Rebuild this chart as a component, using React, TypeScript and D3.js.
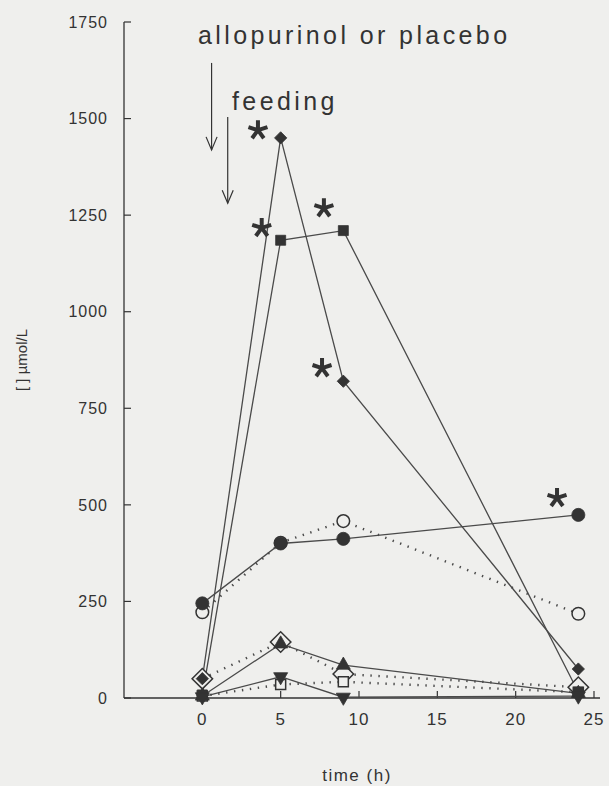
import React from "react";
import * as d3 from "d3";

// ---- data ----
const times = [0, 5, 9, 24];
const diamondFilled = [50, 1450, 820, 75];
const squareFilled = [8, 1185, 1210, 15];
const circleFilled = [245, 400, 412, 474];
const circleOpen = [222, 402, 458, 218];
const triangleUpFilled = [5, 140, 85, 12];
const diamondOpen = [50, 145, 62, 28];
const triangleDownFilled = [3, 55, 2, 5];
const squareOpen = [5, 35, 42, 15];

const xTicks = [0, 5, 10, 15, 20, 25];
const yTicks = [0, 250, 500, 750, 1000, 1250, 1500, 1750];

// asterisk annotations (data space)
const starT = [3.55, 3.79, 7.76, 7.64, 22.64];
const starV = [1470, 1217, 1268, 854, 518];

// arrow annotations (data space): time, top value, bottom value
const arrowT = [0.59, 1.62];
const arrowTop = [1644, 1504];
const arrowBottom = [1419, 1281];

const W = 609;
const H = 786;
const BG = "#efefed";
const INK = "#333";
const LINE = "#4a4a4a";
const FONT = "'Liberation Sans', Arial, Helvetica, sans-serif";

type Kind = "diamond" | "square" | "circle" | "triUp" | "triDown";
interface Series {
  values: number[];
  kind: Kind;
  filled: boolean;
  dotted: boolean;
  size: number;
}

const series: Series[] = [
  { values: circleOpen, kind: "circle", filled: false, dotted: true, size: 125 },
  { values: diamondOpen, kind: "diamond", filled: false, dotted: true, size: 210 },
  { values: squareOpen, kind: "square", filled: false, dotted: true, size: 100 },
  { values: diamondFilled, kind: "diamond", filled: true, dotted: false, size: 75 },
  { values: squareFilled, kind: "square", filled: true, dotted: false, size: 100 },
  { values: circleFilled, kind: "circle", filled: true, dotted: false, size: 135 },
  { values: triangleUpFilled, kind: "triUp", filled: true, dotted: false, size: 85 },
  { values: triangleDownFilled, kind: "triDown", filled: true, dotted: false, size: 85 },
];

function symbolPath(kind: Kind, size: number): string {
  const type =
    kind === "circle"
      ? d3.symbolCircle
      : kind === "triUp" || kind === "triDown"
      ? d3.symbolTriangle
      : d3.symbolSquare;
  return d3.symbol().type(type).size(size)() || "";
}

function rotationOf(kind: Kind): number {
  if (kind === "diamond") return 45;
  if (kind === "triDown") return 180;
  return 0;
}

function asteriskPath(r: number): string {
  const p = d3.path();
  for (let i = 0; i < 5; i++) {
    const a = ((-90 + i * 72) * Math.PI) / 180;
    p.moveTo(0, 0);
    p.lineTo(r * Math.cos(a), r * Math.sin(a));
  }
  return p.toString();
}

export default function App() {
  const x = d3.scaleLinear().domain([-5, 25]).range([124, 594]);
  const y = d3.scaleLinear().domain([0, 1750]).range([698, 22]);

  const line = d3
    .line<number>()
    .x((_, i) => x(times[i]))
    .y((v) => y(v));

  const x0 = x.range()[0];
  const y0 = y.range()[0];

  return (
    <svg
      width={W}
      height={H}
      style={{ position: "absolute", left: 0, top: 0, background: BG }}
      fontFamily={FONT}
    >
      <rect x={0} y={0} width={W} height={H} fill={BG} />

      {/* axes */}
      <line x1={x0} x2={x0} y1={y(1750)} y2={y0} stroke={INK} strokeWidth={1.3} />
      <line x1={x0} x2={x(25) + 6} y1={y0} y2={y0} stroke={INK} strokeWidth={1.3} />
      {yTicks.map((t) => (
        <g key={"yt" + t}>
          <line x1={x0} x2={x0 + 7} y1={y(t)} y2={y(t)} stroke={INK} strokeWidth={1.2} />
          <text
            x={x0 - 16}
            y={y(t)}
            dy="0.36em"
            textAnchor="end"
            fontSize={16}
            letterSpacing={1}
            fill={INK}
          >
            {t}
          </text>
        </g>
      ))}
      {xTicks.map((t) => (
        <g key={"xt" + t}>
          <line x1={x(t)} x2={x(t)} y1={y0} y2={y0 - 7} stroke={INK} strokeWidth={1.2} />
          <text
            x={x(t)}
            y={y0 + 27}
            textAnchor="middle"
            fontSize={17}
            letterSpacing={1}
            fill={INK}
          >
            {t}
          </text>
        </g>
      ))}
      <text
        x={357}
        y={781}
        textAnchor="middle"
        fontSize={17}
        letterSpacing={1.5}
        fill={INK}
      >
        time (h)
      </text>
      <text
        transform={`translate(27, ${(y(0) + y(1750)) / 2}) rotate(-90)`}
        textAnchor="middle"
        fontSize={15}
        fill={INK}
      >
        [ ] µmol/L
      </text>

      {/* annotations */}
      <text x={198} y={44} fontSize={25} letterSpacing={3.4} fill={INK}>
        allopurinol or placebo
      </text>
      <text x={232} y={110} fontSize={25} letterSpacing={3.4} fill={INK}>
        feeding
      </text>
      {arrowT.map((t, i) => {
        const ax = x(t);
        const yt = y(arrowTop[i]);
        const yb = y(arrowBottom[i]);
        return (
          <g key={"ar" + i} stroke={INK} strokeWidth={1.2} fill="none">
            <line x1={ax} x2={ax} y1={yt} y2={yb} />
            <path d={`M${ax - 5.5},${yb - 13} L${ax},${yb} L${ax + 5.5},${yb - 13}`} />
          </g>
        );
      })}

      {/* lines */}
      {series.map((s, i) => (
        <path
          key={"ln" + i}
          d={line(s.values) || ""}
          fill="none"
          stroke={LINE}
          strokeWidth={s.dotted ? 2.4 : 1.3}
          strokeDasharray={s.dotted ? "1.4 6.6" : undefined}
        />
      ))}

      {/* markers */}
      {series.map((s, i) =>
        s.values.map((v, j) => (
          <path
            key={`mk${i}-${j}`}
            d={symbolPath(s.kind, s.size)}
            transform={`translate(${x(times[j])},${y(v)}) rotate(${rotationOf(s.kind)})`}
            fill={s.filled ? INK : BG}
            stroke={INK}
            strokeWidth={s.filled ? 0.8 : 1.5}
          />
        ))
      )}

      {/* asterisks */}
      {starT.map((t, i) => (
        <path
          key={"st" + i}
          d={asteriskPath(10)}
          transform={`translate(${x(t)},${y(starV[i])})`}
          stroke={INK}
          strokeWidth={4}
          strokeLinecap="butt"
          fill="none"
        />
      ))}
    </svg>
  );
}
